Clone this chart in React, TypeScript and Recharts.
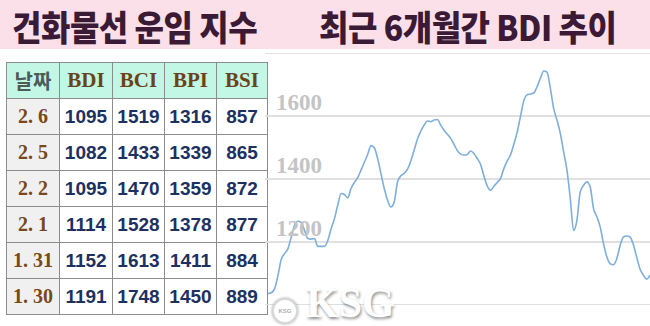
import React from "react";
import { LineChart, Line, XAxis, YAxis, CartesianGrid } from "recharts";

// BDI daily values, last 6 months (ends 2/6)
const BDI_SERIES = [
  1036, 1039, 1052, 1094, 1145, 1163, 1179, 1216, 1253, 1266,
  1262, 1237, 1211, 1209, 1211, 1186, 1186, 1186, 1205, 1242,
  1274, 1317, 1354, 1351, 1340, 1370, 1389, 1404, 1428, 1453,
  1478, 1506, 1499, 1465, 1417, 1370, 1333, 1311, 1327, 1391,
  1410, 1418, 1431, 1457, 1492, 1527, 1552, 1571, 1584, 1582,
  1587, 1589, 1571, 1555, 1542, 1529, 1510, 1490, 1479, 1476,
  1478, 1489, 1481, 1465, 1446, 1410, 1378, 1364, 1377, 1389,
  1402, 1433, 1457, 1476, 1510, 1548, 1598, 1648, 1667, 1670,
  1673, 1693, 1720, 1743, 1739, 1688, 1624, 1587, 1545, 1486,
  1428, 1338, 1237, 1269, 1359, 1380, 1391, 1375, 1306, 1280,
  1248, 1195, 1153, 1131, 1128, 1147, 1189, 1216, 1219, 1216,
  1191, 1152, 1114, 1095, 1082, 1095,
];

const Y_TICKS = [1200, 1400, 1600];

const TABLE_COLUMNS = ["날짜", "BDI", "BCI", "BPI", "BSI"];
const TABLE_DATES = ["2. 6", "2. 5", "2. 2", "2. 1", "1. 31", "1. 30"];
const TABLE_BDI = [1095, 1082, 1095, 1114, 1152, 1191];
const TABLE_BCI = [1519, 1433, 1470, 1528, 1613, 1748];
const TABLE_BPI = [1316, 1339, 1359, 1378, 1411, 1450];
const TABLE_BSI = [857, 865, 872, 877, 884, 889];

const COL_WIDTHS = [52, 52, 51, 51, 50];

const chartData = BDI_SERIES.map((v, i) => ({ day: i, bdi: v }));

const styles: Record<string, React.CSSProperties> = {
  page: {
    position: "absolute",
    left: 0,
    top: 0,
    width: 650,
    height: 326,
    background: "white",
    overflow: "hidden",
  },
  header: {
    position: "absolute",
    left: 0,
    top: 0,
    width: 650,
    height: 49,
    background: "#fbe0ea",
  },
  title: {
    position: "absolute",
    top: 5,
    fontFamily: "'Noto Sans CJK KR', sans-serif",
    fontWeight: 900,
    fontSize: 32,
    lineHeight: "38px",
    color: "#3b1a35",
    letterSpacing: -0.5,
    whiteSpace: "nowrap",
    transform: "scaleY(1.1)",
    transformOrigin: "left top",
  },
  table: {
    position: "absolute",
    left: 6,
    top: 62,
    borderCollapse: "collapse",
    tableLayout: "fixed",
  },
  cell: {
    border: "1px solid #8c8c8c",
    height: 35,
    padding: 0,
    textAlign: "center",
    verticalAlign: "middle",
  },
};

const headCell = (i: number): React.CSSProperties => ({
  ...styles.cell,
  width: COL_WIDTHS[i],
  background: "#c3f7e5",
  fontFamily:
    i === 0 ? "'Noto Sans CJK KR', sans-serif" : "'Liberation Serif', serif",
  fontWeight: 700,
  fontSize: i === 0 ? 20 : 21,
  color: i === 0 ? "#4c5a5a" : "#6a4418",
});

const dateCell: React.CSSProperties = {
  ...styles.cell,
  background: "#f0f0f0",
  fontFamily: "'Liberation Serif', serif",
  fontWeight: 700,
  fontSize: 20,
  color: "#7a4818",
};

const valueCell: React.CSSProperties = {
  ...styles.cell,
  background: "white",
  fontFamily: "'Liberation Sans', sans-serif",
  fontWeight: 700,
  fontSize: 19,
  color: "#1d3160",
};

const renderYTick = (props: any) => {
  const { y, payload } = props;
  return (
    <text
      x={11}
      y={y - 6}
      fill="#c4c4c4"
      fontFamily="'Liberation Serif', serif"
      fontWeight={700}
      fontSize={23}
      textAnchor="start"
    >
      {payload.value}
    </text>
  );
};

export default function App() {
  return (
    <div style={styles.page}>
      <div style={styles.header}>
        <div style={{ ...styles.title, left: 12 }}>건화물선 운임 지수</div>
        <div style={{ ...styles.title, left: 319 }}>최근 6개월간 BDI 추이</div>
      </div>

      <table style={styles.table}>
        <thead>
          <tr>
            {TABLE_COLUMNS.map((c, i) => (
              <th key={c} style={headCell(i)}>
                {c}
              </th>
            ))}
          </tr>
        </thead>
        <tbody>
          {TABLE_DATES.map((d, r) => (
            <tr key={d}>
              <td style={dateCell}>{d}</td>
              <td style={valueCell}>{TABLE_BDI[r]}</td>
              <td style={valueCell}>{TABLE_BCI[r]}</td>
              <td style={valueCell}>{TABLE_BPI[r]}</td>
              <td style={valueCell}>{TABLE_BSI[r]}</td>
            </tr>
          ))}
        </tbody>
      </table>

      <div style={{ position: "absolute", left: 265, top: 53 }}>
        <LineChart
          width={385}
          height={252}
          data={chartData}
          margin={{ top: 0, right: 0, bottom: 0, left: 0 }}
        >
          <CartesianGrid
            horizontal
            vertical={false}
            stroke="#e0e0e0"
            strokeWidth={2}
          />
          <XAxis dataKey="day" hide padding={{ left: 3, right: 0 }} />
          <YAxis
            domain={[1000, 1800]}
            ticks={Y_TICKS}
            width={1}
            mirror
            interval={0}
            axisLine={false}
            tickLine={false}
            tick={renderYTick}
          />
          <Line
            type="monotone"
            dataKey="bdi"
            stroke="#7eaedb"
            strokeWidth={1.6}
            dot={false}
            isAnimationActive={false}
          />
        </LineChart>
      </div>

      {/* KSG watermark */}
      <div
        style={{
          position: "absolute",
          left: 272,
          top: 298,
          width: 22,
          height: 22,
          borderRadius: "50%",
          border: "2px solid #d8d8d8",
          background: "white",
          boxShadow: "0 0 3px rgba(0,0,0,0.35)",
          fontFamily: "'Liberation Sans', sans-serif",
          fontSize: 6,
          fontWeight: 700,
          color: "#b0b0b0",
          textAlign: "center",
          lineHeight: "22px",
        }}
      >
        KSG
      </div>
      <div
        style={{
          position: "absolute",
          left: 306,
          top: 282,
          fontFamily: "'Liberation Serif', serif",
          fontWeight: 700,
          fontSize: 42,
          lineHeight: "42px",
          color: "white",
          textShadow: "1px 2px 3px rgba(0,0,0,0.45)",
        }}
      >
        KSG
      </div>
    </div>
  );
}
